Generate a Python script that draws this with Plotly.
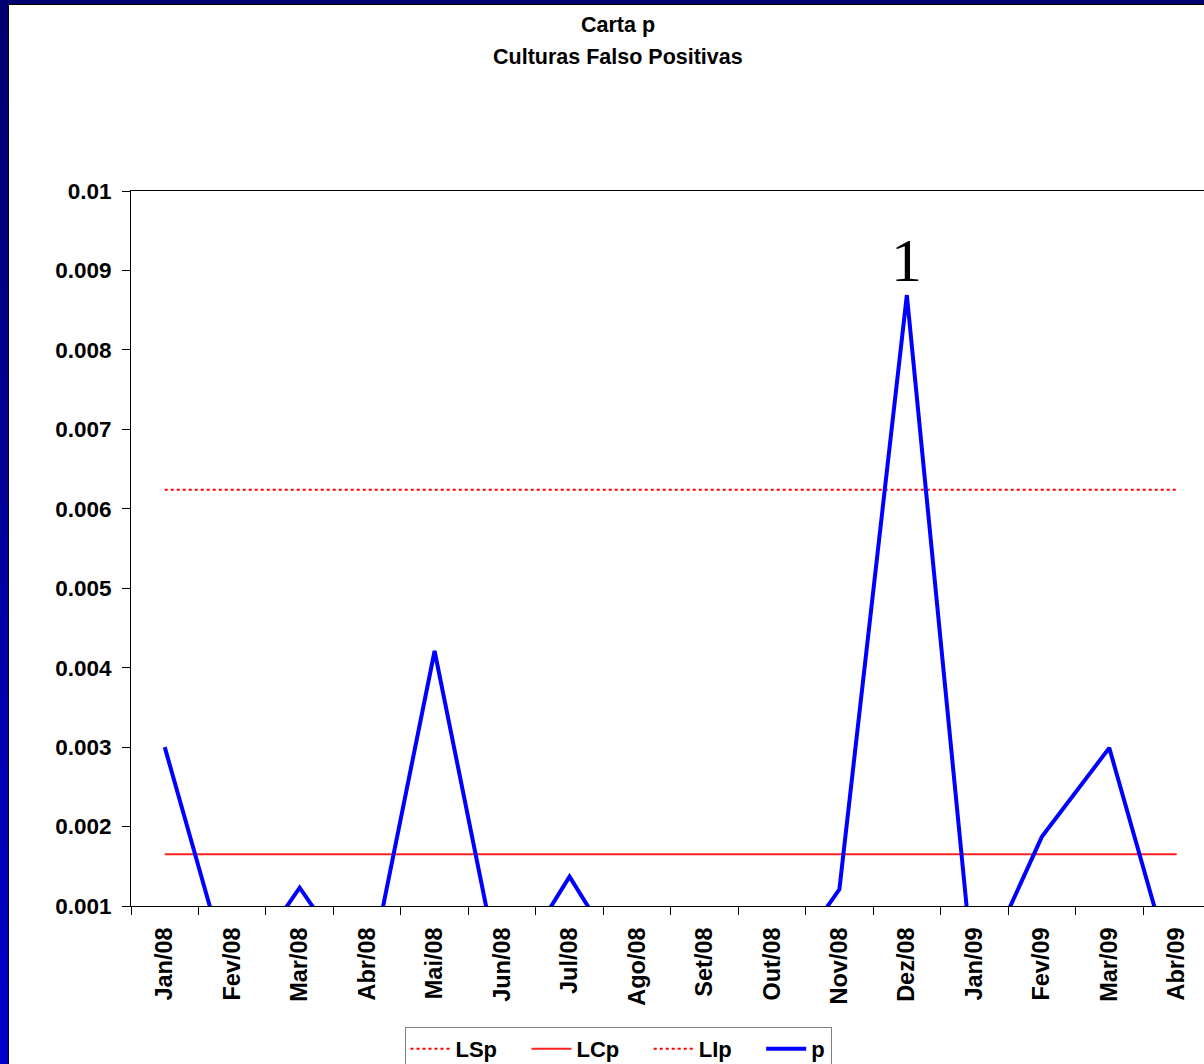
import plotly.graph_objects as go

categories = ["Jan/08", "Fev/08", "Mar/08", "Abr/08", "Mai/08", "Jun/08", "Jul/08", "Ago/08",
              "Set/08", "Out/08", "Nov/08", "Dez/08", "Jan/09", "Fev/09", "Mar/09", "Abr/09"]
p_values = [0.0030, 0.0, 0.00123, 0.0, 0.00421, 0.0, 0.00137, 0.0,
            0.0, 0.0, 0.00121, 0.00869, 0.0, 0.00187, 0.00299, 0.0]
LSp = [0.00624] * 16
LCp = [0.00165] * 16
LIp = [0.0] * 16
ytick_vals = [0.001, 0.002, 0.003, 0.004, 0.005, 0.006, 0.007, 0.008, 0.009, 0.01]
ytick_text = ["0.001", "0.002", "0.003", "0.004", "0.005", "0.006", "0.007", "0.008", "0.009", "0.01"]

W, H = 1204, 1064
L, T, B = 131, 191, 906
plot_w = W - L
plot_h = B - T
cat_w = (1177 - 165) / 15.0

def px(x):
    return (x - L) / plot_w

def py(y):
    return (B - y) / plot_h

FONT = "Liberation Sans, Arial, sans-serif"
PAD = "\u00a0" * 4

fig = go.Figure()
fig.add_trace(go.Scatter(x=categories, y=LSp, name="<b>LSp</b>" + PAD, mode="lines",
                         line=dict(color="#FF0000", width=2, dash="dot")))
fig.add_trace(go.Scatter(x=categories, y=LCp, name="<b>LCp</b>" + PAD, mode="lines",
                         line=dict(color="#FF2020", width=2)))
fig.add_trace(go.Scatter(x=categories, y=LIp, name="<b>LIp</b>" + PAD, mode="lines",
                         line=dict(color="#FF0000", width=2, dash="dot")))
fig.add_trace(go.Scatter(x=categories, y=p_values, name="<b>p</b>", mode="lines",
                         line=dict(color="#0000FF", width=4)))

# frame: navy top band and gradient left band
shapes = []
shapes.append(dict(type="rect", xref="paper", yref="paper", x0=px(0), x1=px(W), y0=py(0), y1=py(4),
                   fillcolor="#000070", line=dict(width=0), layer="above"))
n = 40
for i in range(n):
    y0 = i * H / n
    y1 = (i + 1) * H / n
    f = i / (n - 1)
    b = int(110 + f * (205 - 110))
    shapes.append(dict(type="rect", xref="paper", yref="paper", x0=px(0), x1=px(8),
                       y0=py(y1 + 1), y1=py(y0), fillcolor=f"rgb(0,0,{b})",
                       line=dict(width=0), layer="above"))
shapes.append(dict(type="line", xref="paper", yref="paper", x0=px(8.5), x1=px(8.5), y0=py(4), y1=py(H),
                   line=dict(color="#000000", width=1)))
shapes.append(dict(type="line", xref="paper", yref="paper", x0=px(8), x1=px(W), y0=py(4.5), y1=py(4.5),
                   line=dict(color="#000000", width=1)))

annotations = [
    dict(text="<b>Carta p</b>", x=px(618), y=py(25), xref="paper", yref="paper", showarrow=False,
         xanchor="center", yanchor="middle", font=dict(family=FONT, size=21.5, color="#000000")),
    dict(text="<b>Culturas Falso Positivas</b>", x=px(618), y=py(57), xref="paper", yref="paper",
         showarrow=False, xanchor="center", yanchor="middle",
         font=dict(family=FONT, size=21.5, color="#000000")),
    dict(text="1", x="Dez/08", y=p_values[11], xref="x", yref="y", showarrow=False,
         xanchor="center", yanchor="bottom", yshift=-1,
         font=dict(family="Liberation Serif, Times New Roman, serif", size=62, color="#000000")),
]

fig.update_layout(
    width=W, height=H,
    margin=dict(l=L, r=0, t=T, b=H - B, pad=0, autoexpand=False),
    paper_bgcolor="#FFFFFF", plot_bgcolor="#FFFFFF",
    showlegend=True,
    legend=dict(orientation="h", x=px(618), y=py(1027), xanchor="center", yanchor="top",
                bordercolor="#808080", borderwidth=1, bgcolor="#FFFFFF",
                font=dict(family=FONT, size=22, color="#000000"), itemwidth=40,
                tracegroupgap=0),
    xaxis=dict(type="category", categoryorder="array", categoryarray=categories,
               range=[-0.5, -0.5 + plot_w / cat_w],
               showline=True, linecolor="#000000", linewidth=1, mirror=True,
               ticks="outside", ticklen=8, tickcolor="#000000", tickson="boundaries",
               tickangle=-90, showgrid=False, zeroline=False, ticklabelstandoff=11,
               tickfont=dict(family=FONT, size=23.5, color="#000000"),
               tickprefix="<b>", ticksuffix="</b>"),
    yaxis=dict(range=[0.001, 0.01], tickvals=ytick_vals, ticktext=[f"<b>{t}</b>" for t in ytick_text],
               showline=True, linecolor="#000000", linewidth=1,
               ticks="outside", ticklen=8, tickcolor="#000000",
               showgrid=False, zeroline=False, ticklabelstandoff=6,
               tickfont=dict(family=FONT, size=22.5, color="#000000")),
    shapes=shapes,
    annotations=annotations,
)

fig.write_html("out.html", config={"displayModeBar": False},
               post_script="document.body.style.margin='0';document.body.style.overflow='hidden';")
